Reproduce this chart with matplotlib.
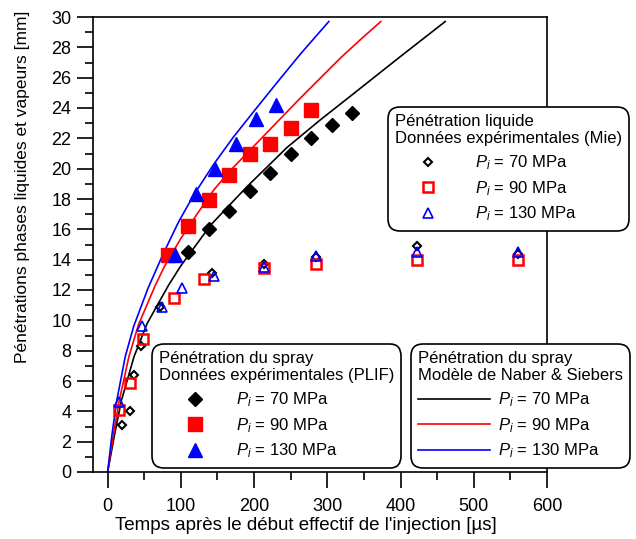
import matplotlib
matplotlib.use("Agg")
import matplotlib.pyplot as plt
from matplotlib.ticker import MultipleLocator

plt.rcParams["font.family"] = ["Liberation Sans", "DejaVu Sans"]
plt.rcParams["mathtext.fontset"] = "custom"
plt.rcParams["mathtext.rm"] = "Liberation Sans"
plt.rcParams["mathtext.it"] = "Liberation Sans:italic"

# liquid penetration, Mie (hollow markers)
mie_t70 = [20, 31, 36, 46, 72, 143, 213, 284, 423, 561]
mie_s70 = [3.1, 4.0, 6.4, 8.3, 10.9, 13.1, 13.7, 14.2, 14.9, 14.4]
mie_t90 = [15, 31, 48, 90, 131, 214, 284, 423, 561]
mie_s90 = [4.1, 5.9, 8.8, 11.5, 12.7, 13.45, 13.7, 14.0, 14.0]
mie_t130 = [15, 47, 74, 102, 145, 214, 284, 423, 561]
mie_s130 = [4.6, 9.6, 10.9, 12.1, 12.9, 13.5, 14.25, 14.5, 14.5]

# spray penetration, PLIF (filled markers)
plif_t70 = [110, 138, 166, 194, 222, 250, 278, 306, 334]
plif_s70 = [14.5, 16.0, 17.2, 18.5, 19.7, 21.0, 22.0, 22.9, 23.7]
plif_t90 = [82, 110, 138, 166, 194, 222, 250, 278]
plif_s90 = [14.3, 16.2, 17.95, 19.6, 21.0, 21.6, 22.7, 23.9]
plif_t130 = [92, 120, 147, 175, 202, 230]
plif_s130 = [14.3, 18.3, 20.0, 21.6, 23.3, 24.2]

# Naber & Siebers model curves
nab_t70 = [0, 10, 19, 36, 54, 83, 100, 141, 190, 245, 290, 332, 400, 461]
nab_s70 = [0, 2.6, 4.75, 7.6, 9.8, 12.3, 13.6, 16.3, 18.8, 21.4, 23.2, 24.8, 27.4, 29.7]
nab_t90 = [0, 8, 16, 29, 42, 65, 77, 100, 122, 145, 168, 200, 230, 260, 290, 318, 345, 373]
nab_s90 = [0, 2.5, 4.75, 7.6, 9.7, 12.3, 13.5, 15.4, 17.0, 18.6, 19.9, 21.5, 23.0,
           24.5, 25.95, 27.3, 28.5, 29.7]
nab_t130 = [0, 6, 12.6, 24, 35.5, 55, 76, 97, 118, 145, 172, 200, 230, 264, 302]
nab_s130 = [0, 2.5, 4.75, 7.6, 9.6, 12.1, 14.4, 16.5, 18.3, 20.3, 22.1, 23.8, 25.6,
            27.6, 29.7]

labels = [r"$P_i$ = 70 MPa", r"$P_i$ = 90 MPa", r"$P_i$ = 130 MPa"]

fig = plt.figure(figsize=(6.36, 5.39), dpi=100)
ax = fig.add_axes([93 / 636, 67 / 539, 454 / 636, 455 / 539])

l70, = ax.plot(nab_t70, nab_s70, color="black", lw=1.2, zorder=2)
l90, = ax.plot(nab_t90, nab_s90, color="red", lw=1.2, zorder=2)
l130, = ax.plot(nab_t130, nab_s130, color="blue", lw=1.2, zorder=2)

m70, = ax.plot(mie_t70, mie_s70, ls="none", marker="D", ms=4, mfc="white",
               mec="black", mew=1.5, zorder=3)
m90, = ax.plot(mie_t90, mie_s90, ls="none", marker="s", ms=6.5, mfc="none",
               mec="red", mew=1.8, zorder=3)
m130, = ax.plot(mie_t130, mie_s130, ls="none", marker="^", ms=6.5, mfc="none",
                mec="blue", mew=1.2, zorder=3)

p70, = ax.plot(plif_t70, plif_s70, ls="none", marker="D", ms=7, color="black", zorder=4)
p90, = ax.plot(plif_t90, plif_s90, ls="none", marker="s", ms=10, color="red", zorder=4)
p130, = ax.plot(plif_t130, plif_s130, ls="none", marker="^", ms=10.5, color="blue", zorder=4)

ax.set_xlim(-20, 600)
ax.set_ylim(0, 30)
ax.xaxis.set_major_locator(MultipleLocator(100))
ax.xaxis.set_minor_locator(MultipleLocator(50))
ax.yaxis.set_major_locator(MultipleLocator(2))
ax.yaxis.set_minor_locator(MultipleLocator(1))
ax.tick_params(which="both", direction="out", width=1.2, labelsize=13,
               top=False, right=False)
ax.tick_params(which="major", length=11.5)
ax.tick_params(which="minor", length=6)
ax.tick_params(axis="x", pad=7)
ax.tick_params(axis="y", pad=4)
for sp in ax.spines.values():
    sp.set_linewidth(1.2)

ax.set_xlabel("Temps après le début effectif de l'injection [µs]", fontsize=13.5)
ax.set_ylabel("Pénétrations phases liquides et vapeurs [mm]", fontsize=12.5)
ax.xaxis.set_label_coords(0.469, -0.1)
ax.yaxis.set_label_coords(-0.138, 0.627)


def make_legend(handles, title, anchor, hlen, tpad):
    leg = ax.legend(handles, labels, title=title, loc="upper left",
                    bbox_to_anchor=anchor, bbox_transform=fig.transFigure,
                    borderaxespad=0, fontsize=12, title_fontsize=12,
                    alignment="left", handlelength=hlen, handletextpad=tpad,
                    labelspacing=0.42, borderpad=0.42, fancybox=True,
                    framealpha=1, edgecolor="black", facecolor="white")
    frame = leg.get_frame()
    frame.set_linewidth(1.2)
    frame.set_boxstyle("round", pad=0, rounding_size=0.7)
    leg.set_zorder(10)
    return leg


leg1 = make_legend([m70, m90, m130],
                   "Pénétration liquide\nDonnées expérimentales (Mie)",
                   (388 / 636, 1 - 107 / 539), 4.0, 0.8)
ax.add_artist(leg1)
leg2 = make_legend([p70, p90, p130],
                   "Pénétration du spray\nDonnées expérimentales (PLIF)",
                   (152 / 636, 1 - 344 / 539), 4.3, 0.3)
ax.add_artist(leg2)
leg3 = make_legend([l70, l90, l130],
                   "Pénétration du spray\nModèle de Naber & Siebers",
                   (411 / 636, 1 - 344 / 539), 4.3, 0.5)

fig.savefig("out.png", dpi=100)
